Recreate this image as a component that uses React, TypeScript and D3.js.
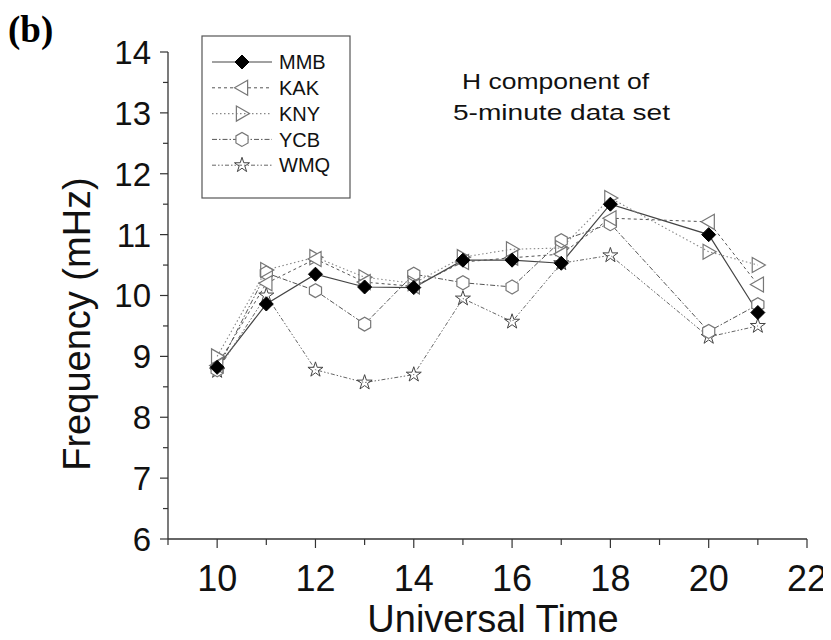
import React from "react";
import * as d3 from "d3";

const hours = [10, 11, 12, 13, 14, 15, 16, 17, 18, 20, 21];
const MMB = [8.82, 9.86, 10.35, 10.14, 10.13, 10.58, 10.58, 10.53, 11.5, 11.0, 9.72];
const KAK = [8.85, 10.2, 10.6, 10.22, 10.15, 10.55, 10.62, 10.68, 11.27, 11.21, 10.18];
const KNY = [9.0, 10.42, 10.63, 10.3, 10.2, 10.63, 10.76, 10.78, 11.6, 10.72, 10.5];
const YCB = [8.78, 10.37, 10.08, 9.53, 10.35, 10.21, 10.14, 10.9, 11.18, 9.41, 9.85];
const WMQ = [8.76, 10.0, 8.78, 8.57, 8.7, 9.95, 9.57, 10.53, 10.66, 9.32, 9.5];

const seriesNames = ["MMB", "KAK", "KNY", "YCB", "WMQ"];
const seriesValues = [MMB, KAK, KNY, YCB, WMQ];

const xTicks = [10, 12, 14, 16, 18, 20, 22];
const yTicks = [6, 7, 8, 9, 10, 11, 12, 13, 14];

const FONT = "'Liberation Sans', Arial, Helvetica, sans-serif";

const styles: Record<string, { dash: string; stroke: string; width: number }> = {
  MMB: { dash: "none", stroke: "#444", width: 1.2 },
  KAK: { dash: "3,3", stroke: "#555", width: 1 },
  KNY: { dash: "1.5,2.5", stroke: "#888", width: 1.1 },
  YCB: { dash: "5,2,1.5,2", stroke: "#555", width: 1 },
  WMQ: { dash: "4,2,1.5,2,1.5,2", stroke: "#666", width: 1 },
};

function polygon(pts: [number, number][]) {
  const p = d3.path();
  pts.forEach((q, i) => (i === 0 ? p.moveTo(q[0], q[1]) : p.lineTo(q[0], q[1])));
  p.closePath();
  return p.toString();
}

function Marker({ name, x, y }: { name: string; x: number; y: number }) {
  if (name === "MMB") {
    const r = 7;
    return (
      <path
        d={polygon([[x, y - r], [x + r, y], [x, y + r], [x - r, y]])}
        fill="#000"
        stroke="#000"
        strokeWidth={1}
      />
    );
  }
  if (name === "KAK") {
    const r = 7.5;
    return (
      <path
        d={polygon([[x - r, y], [x + r * 0.75, y - r], [x + r * 0.75, y + r]])}
        fill="#fff"
        stroke="#777"
        strokeWidth={1.2}
      />
    );
  }
  if (name === "KNY") {
    const r = 7.5;
    return (
      <path
        d={polygon([[x + r, y], [x - r * 0.75, y - r], [x - r * 0.75, y + r]])}
        fill="none"
        stroke="#777"
        strokeWidth={1.2}
      />
    );
  }
  if (name === "YCB") {
    const r = 7;
    const pts: [number, number][] = d3.range(6).map((i) => {
      const a = (Math.PI / 3) * i + Math.PI / 2;
      return [x + r * Math.cos(a), y + r * Math.sin(a)];
    });
    return <path d={polygon(pts)} fill="#fff" stroke="#777" strokeWidth={1.2} />;
  }
  const sym = d3.symbol().type(d3.symbolStar).size(70)();
  return (
    <path
      d={sym as string}
      transform={`translate(${x},${y})`}
      fill="none"
      stroke="#444"
      strokeWidth={1}
    />
  );
}

export default function App() {
  const W = 831;
  const H = 640;
  const x = d3.scaleLinear().domain([9, 22]).range([168, 807]);
  const y = d3.scaleLinear().domain([6, 14]).range([539, 52]);
  const line = d3
    .line<[number, number]>()
    .x((d) => x(d[0]))
    .y((d) => y(d[1]));

  const xMinor = d3.range(9, 22.01, 1);
  const yMinor = d3.range(6, 14.01, 0.5);

  const legendX = 202;
  const legendY = 36;
  const legendRowY = (i: number) => 62 + i * 25.8;

  return (
    <div style={{ margin: -8 }}>
      <svg width={W} height={H} style={{ display: "block", background: "#fff" }}>
        <text x={8} y={42} fontFamily="'Liberation Serif', 'Times New Roman', serif" fontWeight="bold" fontSize={37}>
          (b)
        </text>

        {/* axes */}
        <line x1={168} x2={168} y1={y(14)} y2={y(6)} stroke="#333" strokeWidth={1.3} />
        <line x1={168} x2={x(22)} y1={y(6)} y2={y(6)} stroke="#333" strokeWidth={1.3} />

        {yMinor.map((v) => {
          const major = Math.abs(v - Math.round(v)) < 1e-6;
          return (
            <line
              key={"ym" + v}
              x1={168}
              x2={168 - (major ? 8 : 5)}
              y1={y(v)}
              y2={y(v)}
              stroke="#333"
              strokeWidth={1.2}
            />
          );
        })}
        {yTicks.map((v) => (
          <text
            key={"yt" + v}
            x={151}
            y={y(v)}
            dy="0.36em"
            textAnchor="end"
            fontFamily={FONT}
            fontSize={33}
            fill="#111"
          >
            {v}
          </text>
        ))}

        {xMinor.map((v) => {
          const major = v % 2 === 0;
          return (
            <line
              key={"xm" + v}
              x1={x(v)}
              x2={x(v)}
              y1={y(6)}
              y2={y(6) + (major ? 9 : 6)}
              stroke="#333"
              strokeWidth={1.2}
            />
          );
        })}
        {xTicks.map((v) => (
          <text
            key={"xt" + v}
            x={x(v)}
            y={591}
            textAnchor="middle"
            fontFamily={FONT}
            fontSize={36}
            fill="#111"
          >
            {v}
          </text>
        ))}

        <text
          x={493}
          y={632}
          textAnchor="middle"
          fontFamily={FONT}
          fontSize={38}
          fill="#111"
        >
          Universal Time
        </text>
        <text
          transform={`translate(90, ${324}) rotate(-90)`}
          textAnchor="middle"
          fontFamily={FONT}
          fontSize={38}
          fill="#111"
        >
          Frequency (mHz)
        </text>

        {/* annotation */}
        <text x={462} y={89} fontFamily={FONT} fontSize={22} textLength={187} lengthAdjust="spacingAndGlyphs" fill="#111">
          H component of
        </text>
        <text x={453} y={120} fontFamily={FONT} fontSize={22} textLength={217} lengthAdjust="spacingAndGlyphs" fill="#111">
          5-minute data set
        </text>

        {/* series lines */}
        {seriesNames.map((name, si) => {
          const pts = hours.map((h, i) => [h, seriesValues[si][i]] as [number, number]);
          const st = styles[name];
          return (
            <path
              key={"l" + name}
              d={line(pts) as string}
              fill="none"
              stroke={st.stroke}
              strokeWidth={st.width}
              strokeDasharray={st.dash}
            />
          );
        })}
        {/* markers, drawn in reverse so MMB sits on top */}
        {[...seriesNames].reverse().map((name) => {
          const si = seriesNames.indexOf(name);
          return (
            <g key={"m" + name}>
              {hours.map((h, i) => (
                <Marker key={i} name={name} x={x(h)} y={y(seriesValues[si][i])} />
              ))}
            </g>
          );
        })}

        {/* legend */}
        <rect x={legendX} y={legendY} width={148} height={162} fill="#fff" stroke="#555" strokeWidth={1.2} />
        {seriesNames.map((name, i) => {
          const st = styles[name];
          const ly = legendRowY(i);
          return (
            <g key={"lg" + name}>
              <line
                x1={212}
                x2={272}
                y1={ly}
                y2={ly}
                stroke={st.stroke}
                strokeWidth={st.width}
                strokeDasharray={st.dash}
              />
              <Marker name={name} x={242} y={ly} />
              <text x={279} y={ly} dy="0.36em" fontFamily={FONT} fontSize={20} fill="#111">
                {name}
              </text>
            </g>
          );
        })}
      </svg>
    </div>
  );
}
